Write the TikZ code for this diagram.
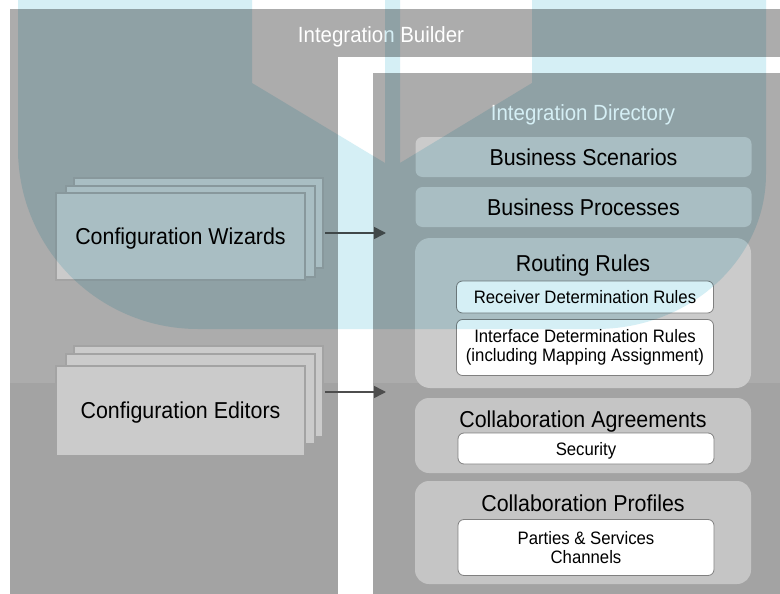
\documentclass[tikz,border=0pt]{standalone}
\usepackage{fontspec}
\setmainfont{Liberation Sans}[FakeStretch=0.93]
\usetikzlibrary{positioning,arrows.meta}
\definecolor{panel}{HTML}{ACACAC}
\definecolor{paneldark}{HTML}{A3A3A3}
\definecolor{card}{HTML}{CBCBCB}
\definecolor{rim}{HTML}{808080}
\definecolor{arrowgray}{HTML}{4D4D4D}
\definecolor{wmark}{RGB}{213,239,245}

\begin{document}
\begin{tikzpicture}[
  x=1pt, y=-1pt,
  bigfont/.style={font=\fontsize{23}{25}\selectfont, text height=16.5pt, text depth=0pt},
  sheet/.style={fill=card, draw=paneldark, line width=2pt, minimum width=249pt, inner sep=0pt},
  groupbox/.style={fill=card, rounded corners=15pt, minimum width=336pt, inner sep=0pt},
  barbox/.style={groupbox, bigfont, rounded corners=7pt, minimum height=40pt},
  titletext/.style={bigfont, inner sep=0pt},
  rulebox/.style={fill=white, draw=rim, line width=0.8pt, rounded corners=6pt,
                  minimum width=257pt, align=center, inner sep=0pt,
                  font=\fontsize{18}{19}\selectfont},
  onerule/.style={rulebox, text height=13pt, text depth=0pt},
  headtext/.style={text=white, font=\fontsize{22}{24}\selectfont,
                   text height=16pt, text depth=0pt, inner sep=0pt},
  flow/.style={draw=arrowgray, line width=1.6pt, -{Triangle[length=12pt,width=12pt]}}
]
\useasboundingbox (0,0) rectangle (780,594);
\fill[white] (0,0) rectangle (780,594);

% Integration Builder frame
\fill[panel] (10,9) rectangle (780,594);
\fill[paneldark] (10,383) rectangle (780,594);
\fill[white] (338,57) rectangle (780,73);
\fill[white] (338,57) rectangle (373,594);
\node[headtext] (builder) at (381,34.5) {Integration Builder};

% Configuration stacks
\node[sheet, minimum height=90pt] (wizback) at (198.5,222.5) {};
\node[sheet, minimum height=91pt] (wizmid) at (190.5,231) {};
\node[sheet, bigfont, minimum height=87pt] (wiz) at (180.5,236.5) {Configuration Wizards};

\node[sheet, minimum height=91pt] (edback) at (198.5,391) {};
\node[sheet, minimum height=90pt] (edmid) at (190.5,398.5) {};
\node[sheet, bigfont, minimum height=90pt] (edit) at (180.5,410.5) {Configuration Editors};

% Integration Directory
\node[headtext] (dir) at (583,113) {Integration Directory};
\node[barbox] (scen) at (583.5,157) {Business Scenarios};
\node[barbox] (proc) at (583.5,207) {Business Processes};

\node[groupbox, minimum height=150pt] (routing) at (583,313) {};
\node[titletext] (routingtitle) at (583,263) {Routing Rules};
\node[onerule, minimum height=32pt] (recv) at (585,297) {Receiver Determination Rules};
\node[rulebox, minimum height=56pt] (iface) at (585,347.5)
  {Interface Determination Rules\\(including Mapping Assignment)};

\node[groupbox, rounded corners=14pt, fill=card!97!black, minimum height=75pt] (agree) at (583,435.5) {};
\node[titletext] (agreetitle) at (583,419.5) {Collaboration Agreements};
\node[onerule, minimum width=256pt, minimum height=31pt] (sec) at (586,448.5) {Security};

\node[groupbox, rounded corners=14pt, fill=card!97!black, minimum height=103pt] (profiles) at (583,532.5) {};
\node[titletext] (profilestitle) at (583,503.5) {Collaboration Profiles};
\node[rulebox, minimum width=256pt, minimum height=56pt] (parties) at (586,547.5)
  {Parties \& Services\\Channels};

% Arrows
\coordinate (wizout) at (325,233);
\coordinate (wizin) at (386,233);
\coordinate (edout) at (325,392);
\coordinate (edin) at (386,392);
\draw[flow] (wizout) -- (wizin);
\draw[flow] (edout) -- (edin);

% Watermark
\fill[wmark, even odd rule, blend mode=multiply]
  (18,0) -- (18,149) arc[start angle=180, end angle=90, radius=180] -- (596,329)
  arc[start angle=90, end angle=0, x radius=170, y radius=155] -- (766,0) -- cycle
  (252,0) -- (252,83) -- (385,163) -- (385,0) -- cycle
  (400,0) -- (400,163) -- (532,83) -- (532,0) -- cycle;

\end{tikzpicture}
\end{document}
